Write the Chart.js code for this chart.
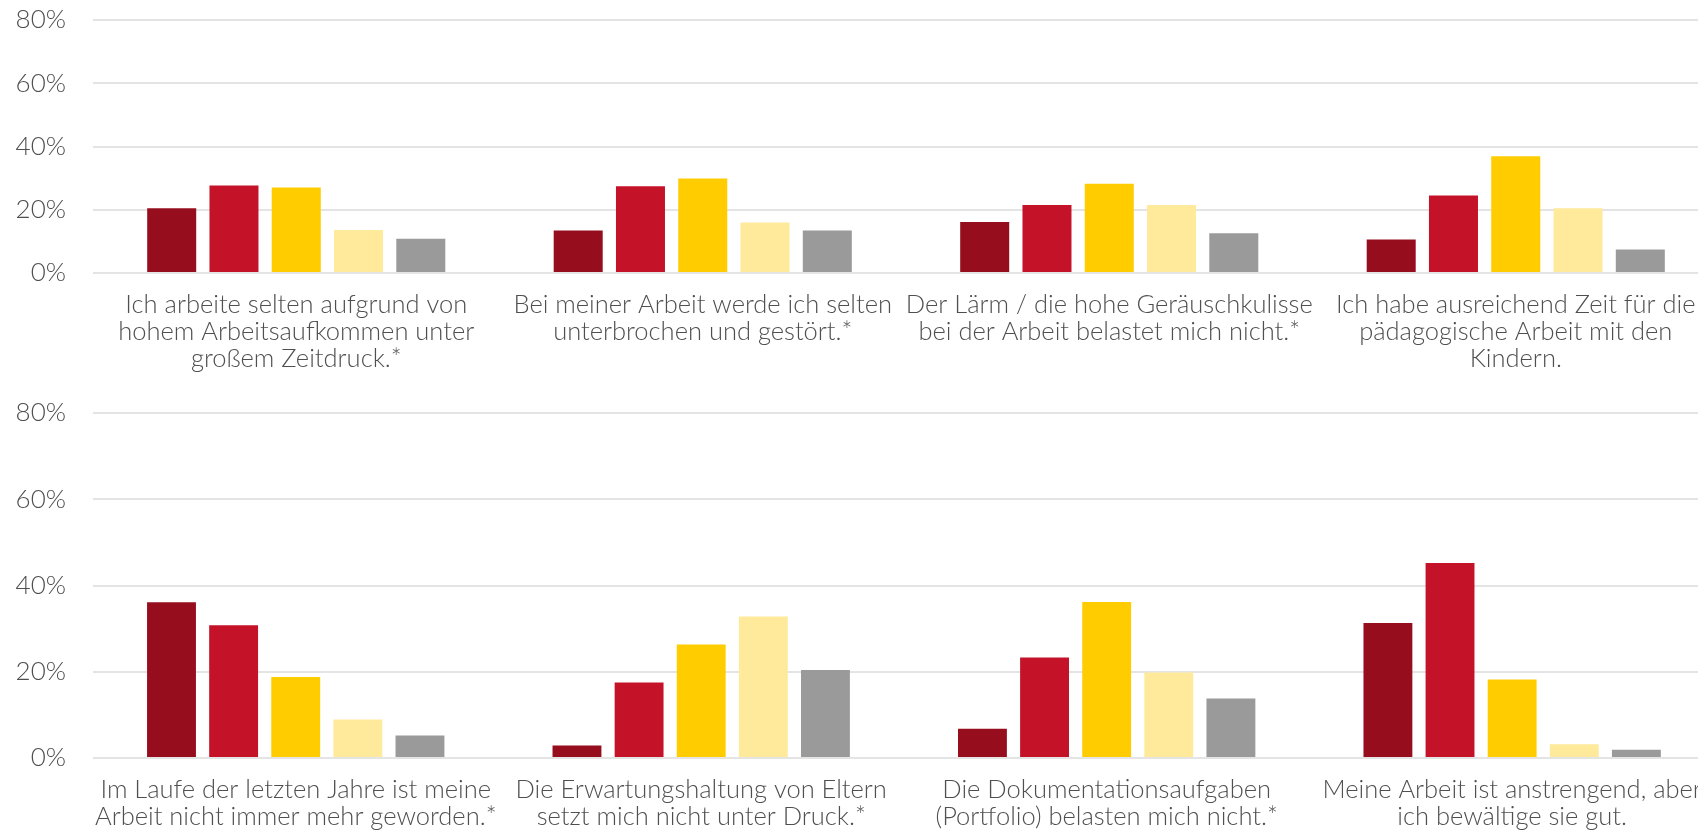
<!DOCTYPE html>
<html>
<head>
<meta charset="utf-8">
<script src="https://cdn.jsdelivr.net/npm/chart.js@4"></script>
<style>
  html, body { margin: 0; padding: 0; background: #fff; overflow: hidden; }
  #topChart { position: absolute; left: 0; top: 0; }
  #bottomChart { position: absolute; left: 0; top: 385px; }
</style>
</head>
<body>
<canvas id="topChart" width="1720" height="385"></canvas>
<canvas id="bottomChart" width="1720" height="470"></canvas>
<script>
// categories
const topLabels = [
    ['Ich arbeite selten aufgrund von', 'hohem Arbeitsaufkommen unter', 'großem Zeitdruck.*'],
    ['Bei meiner Arbeit werde ich selten', 'unterbrochen und gestört.*'],
    ['Der Lärm / die hohe Geräuschkulisse', 'bei der Arbeit belastet mich nicht.*'],
    ['Ich habe ausreichend Zeit für die', 'pädagogische Arbeit mit den', 'Kindern.']
];
const bottomLabels = [
    ['Im Laufe der letzten Jahre ist meine', 'Arbeit nicht immer mehr geworden.*'],
    ['Die Erwartungshaltung von Eltern', 'setzt mich nicht unter Druck.*'],
    ['Die Dokumentationsaufgaben', '(Portfolio) belasten mich nicht.*'],
    ['Meine Arbeit ist anstrengend, aber', 'ich bewältige sie gut.']
];

// answer categories (legend not shown)
const seriesNames = ['trifft voll zu', 'trifft eher zu', 'teils/teils', 'trifft eher nicht zu', 'trifft gar nicht zu'];
const seriesColors = ['#960e1e', '#c41228', '#ffcc00', '#ffe99a', '#9a9a9a'];

// values in percent, top chart
const topVoll = [20.5, 13.4, 16.1, 10.6];
const topEher = [27.7, 27.4, 21.5, 24.5];
const topTeils = [27.0, 29.9, 28.2, 36.9];
const topEherNicht = [13.6, 16.0, 21.5, 20.5];
const topGarNicht = [10.8, 13.4, 12.6, 7.4];

// values in percent, bottom chart
const bottomVoll = [36.1, 2.9, 6.8, 31.3];
const bottomEher = [30.8, 17.5, 23.3, 45.2];
const bottomTeils = [18.8, 26.3, 36.2, 18.2];
const bottomEherNicht = [8.9, 32.8, 19.8, 3.2];
const bottomGarNicht = [5.2, 20.4, 13.8, 1.9];

const yTicks = [0, 20, 40, 60, 80];

const textColor = '#4f4f4f';
const fontFamily = 'Lato, "Open Sans", sans-serif';

function makeDatasets(rows) {
    return rows.map((data, i) => ({
        label: seriesNames[i],
        data: data,
        backgroundColor: seriesColors[i],
        borderWidth: 0,
        categoryPercentage: 0.766,
        barPercentage: 0.787
    }));
}

function makeChart(id, labels, rows, padTop, xHeight) {
    const ctx = document.getElementById(id).getContext('2d');
    return new Chart(ctx, {
        type: 'bar',
        data: {
            labels: labels,
            datasets: makeDatasets(rows)
        },
        options: {
            responsive: false,
            animation: false,
            layout: { padding: { top: padTop, right: 1, bottom: 0, left: 0 } },
            plugins: {
                legend: { display: false },
                tooltip: { enabled: false }
            },
            scales: {
                x: {
                    grid: { display: false, drawTicks: false },
                    border: { display: false },
                    ticks: {
                        autoSkip: false,
                        maxRotation: 0,
                        minRotation: 0,
                        padding: 18,
                        color: textColor,
                        font: { family: fontFamily, size: 25.5, weight: '300', lineHeight: '27px' }
                    },
                    afterFit: (scale) => { scale.height = xHeight; }
                },
                y: {
                    min: 0,
                    max: 80,
                    afterBuildTicks: (scale) => { scale.ticks = yTicks.map(v => ({ value: v })); },
                    grid: {
                        color: '#e4e4e4',
                        lineWidth: 2,
                        drawTicks: true,
                        tickLength: 27,
                        tickColor: 'rgba(0,0,0,0)'
                    },
                    border: { display: false },
                    ticks: {
                        padding: 0,
                        color: textColor,
                        font: { family: fontFamily, size: 26, weight: '300' },
                        callback: (v) => v + '%'
                    },
                    afterFit: (scale) => { scale.width = 93; }
                }
            }
        }
    });
}

makeChart('topChart', topLabels,
    [topVoll, topEher, topTeils, topEherNicht, topGarNicht], 20, 112);
makeChart('bottomChart', bottomLabels,
    [bottomVoll, bottomEher, bottomTeils, bottomEherNicht, bottomGarNicht], 28, 97);
</script>
</body>
</html>
